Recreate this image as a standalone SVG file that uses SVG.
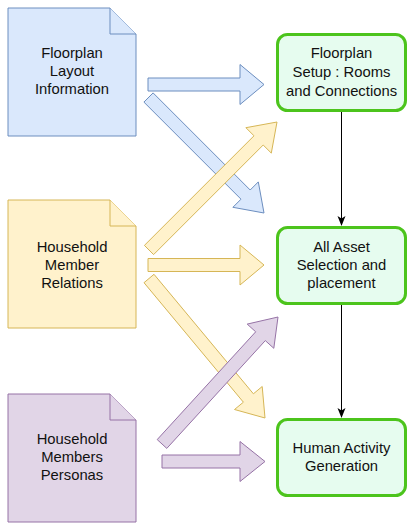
<svg xmlns="http://www.w3.org/2000/svg" width="409" height="523" viewBox="0 0 409 523">
<style>
text{font-family:"Liberation Sans",Arial,sans-serif;font-size:14.8px;fill:#111;text-anchor:middle}
.blue{fill:#dae8fc;stroke:#6c8ebf;stroke-width:1}
.yellow{fill:#fff2cc;stroke:#d6b656;stroke-width:1}
.purple{fill:#e1d5e7;stroke:#9673a6;stroke-width:1}
.box{fill:#e6fcef;stroke:#4cc41c;stroke-width:3}
.link{stroke:#000;stroke-width:1;fill:none}
</style>
<defs>
<marker id="arr" viewBox="0 0 10 10" refX="9" refY="5" markerWidth="10" markerHeight="10" markerUnits="userSpaceOnUse" orient="auto">
<path d="M0,1 L10,5 L0,9 L2.5,5 Z" fill="#000"/>
</marker>
</defs>
<g id="doc-floorplan">
<path class="blue" d="M8,8 H110 L136,34 V136 H8 Z"/>
<path class="blue" d="M110,8 V34 H136"/>
<text x="72" y="58">Floorplan</text>
<text x="72" y="76">Layout</text>
<text x="72" y="94">Information</text>
</g>
<g id="doc-relations">
<path class="yellow" d="M8,200 H110 L136,226 V328 H8 Z"/>
<path class="yellow" d="M110,200 V226 H136"/>
<text x="72" y="252">Household</text>
<text x="72" y="270">Member</text>
<text x="72" y="288">Relations</text>
</g>
<g id="doc-personas">
<path class="purple" d="M8,394 H110 L136,420 V522 H8 Z"/>
<path class="purple" d="M110,394 V420 H136"/>
<text x="72" y="444">Household</text>
<text x="72" y="462">Members</text>
<text x="72" y="480">Personas</text>
</g>
<g id="box-floorplan-setup">
<rect class="box" x="277.5" y="34.5" width="128" height="76" rx="10"/>
<text x="341.5" y="58">Floorplan</text>
<text x="341.5" y="77">Setup : Rooms</text>
<text x="341.5" y="96">and Connections</text>
</g>
<g id="box-asset">
<rect class="box" x="277.5" y="227.5" width="128" height="76" rx="10"/>
<text x="341.5" y="252">All Asset</text>
<text x="341.5" y="270">Selection and</text>
<text x="341.5" y="288">placement</text>
</g>
<g id="box-activity">
<rect class="box" x="277.5" y="419.5" width="128" height="76" rx="10"/>
<text x="341.5" y="453">Human Activity</text>
<text x="341.5" y="471">Generation</text>
</g>
<g id="connectors">
<polygon class="blue" points="148,78 240,78 240,64.5 264,84.5 240,104.5 240,91 148,91"/>
<polygon class="blue" points="143.9,102.1 241.0,199.2 232.9,207.3 264,213 258.3,181.9 250.2,190.0 153.1,92.9"/>
<polygon class="yellow" points="153.6,254.6 263.2,145.0 271.3,153.1 277,122 245.9,127.7 254.0,135.8 144.4,245.4"/>
<polygon class="yellow" points="148,258.5 240,258.5 240,245 264,265 240,285 240,271.5 148,271.5"/>
<polygon class="yellow" points="144.0,282.7 243.4,402.2 234.5,409.5 265,418 262.2,386.5 253.4,393.8 154.0,274.3"/>
<polygon class="purple" points="166.8,448.4 265.3,340.6 273.8,348.3 278,317 247.2,324.1 255.7,331.8 157.2,439.6"/>
<polygon class="purple" points="162,455 240,455 240,441.5 265,461.5 240,481.5 240,468 162,468"/>
<line class="link" x1="341.5" y1="112" x2="341.5" y2="225" marker-end="url(#arr)"/>
<line class="link" x1="341.5" y1="305" x2="341.5" y2="417" marker-end="url(#arr)"/>
</g>
</svg>
